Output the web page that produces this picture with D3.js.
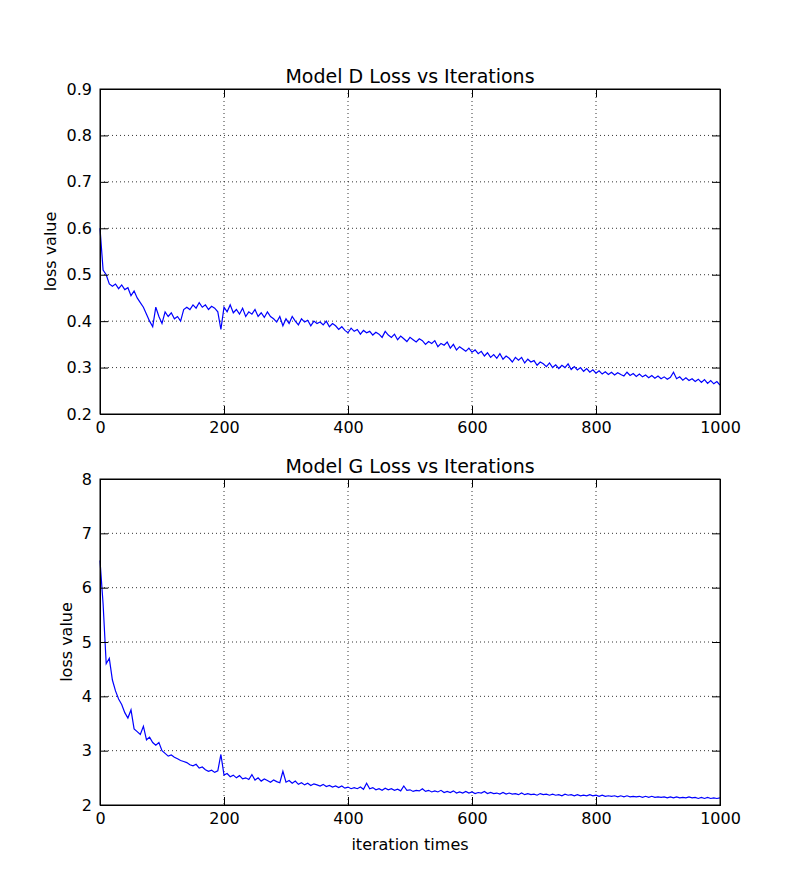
<!DOCTYPE html>
<html>
<head>
<meta charset="utf-8">
<script src="https://cdn.jsdelivr.net/npm/d3@7"></script>
<style>
  body { margin: 0; background: #fff; }
  svg { font-family: "DejaVu Sans", sans-serif; }
</style>
</head>
<body>
<svg id="chart" width="800" height="894"></svg>
<script>
// iterations sampled every 5 steps
var iterations = d3.range(0, 1001, 5);

var lossD = [0.60,0.51,0.50,0.48,0.475,0.48,0.47,0.478,0.468,0.472,
  0.455,0.465,0.45,0.44,0.43,0.415,0.40,0.388,0.43,0.41,
  0.395,0.42,0.41,0.418,0.405,0.41,0.40,0.425,0.43,0.425,
  0.435,0.428,0.44,0.43,0.435,0.425,0.432,0.428,0.42,0.382,
  0.43,0.42,0.435,0.418,0.425,0.415,0.428,0.41,0.42,0.415,
  0.425,0.41,0.418,0.408,0.42,0.41,0.405,0.398,0.41,0.39,
  0.405,0.395,0.41,0.40,0.392,0.405,0.398,0.402,0.39,0.40,
  0.395,0.398,0.392,0.40,0.388,0.395,0.39,0.382,0.388,0.38,
  0.375,0.385,0.378,0.382,0.372,0.38,0.375,0.378,0.37,0.376,
  0.372,0.365,0.378,0.37,0.365,0.372,0.36,0.368,0.362,0.356,
  0.365,0.36,0.355,0.362,0.358,0.35,0.356,0.352,0.358,0.345,
  0.352,0.348,0.355,0.342,0.35,0.338,0.345,0.34,0.335,0.342,
  0.333,0.338,0.33,0.335,0.325,0.332,0.322,0.328,0.32,0.33,
  0.318,0.325,0.32,0.312,0.322,0.316,0.322,0.31,0.318,0.312,
  0.315,0.305,0.312,0.308,0.302,0.31,0.30,0.306,0.298,0.305,
  0.30,0.308,0.296,0.302,0.295,0.30,0.292,0.298,0.29,0.295,
  0.288,0.293,0.286,0.291,0.285,0.29,0.284,0.289,0.285,0.282,
  0.29,0.283,0.287,0.281,0.286,0.28,0.284,0.278,0.283,0.277,
  0.282,0.276,0.28,0.275,0.279,0.29,0.276,0.28,0.273,0.278,
  0.272,0.276,0.27,0.275,0.268,0.274,0.266,0.272,0.265,0.27,
  0.262];

var lossG = [6.5,5.7,4.6,4.7,4.3,4.1,3.95,3.85,3.7,3.6,
  3.75,3.4,3.35,3.3,3.45,3.2,3.25,3.15,3.1,3.15,
  3.0,2.95,2.9,2.92,2.88,2.85,2.82,2.8,2.78,2.74,
  2.72,2.75,2.68,2.7,2.65,2.62,2.64,2.6,2.63,2.93,
  2.55,2.58,2.52,2.55,2.5,2.54,2.48,2.5,2.47,2.56,
  2.46,2.5,2.44,2.48,2.45,2.42,2.46,2.43,2.41,2.62,
  2.42,2.45,2.4,2.44,2.38,2.41,2.37,2.4,2.36,2.39,
  2.37,2.35,2.38,2.34,2.36,2.33,2.35,2.32,2.35,2.31,
  2.33,2.3,2.32,2.3,2.33,2.29,2.4,2.3,2.32,2.28,
  2.3,2.27,2.31,2.28,2.3,2.27,2.29,2.26,2.35,2.27,
  2.28,2.25,2.27,2.26,2.3,2.25,2.27,2.24,2.26,2.24,
  2.27,2.23,2.25,2.23,2.26,2.22,2.24,2.22,2.25,2.22,
  2.24,2.21,2.23,2.22,2.25,2.21,2.23,2.21,2.22,2.2,
  2.23,2.2,2.22,2.2,2.21,2.19,2.22,2.19,2.21,2.19,
  2.2,2.18,2.21,2.19,2.2,2.18,2.2,2.18,2.19,2.17,
  2.2,2.18,2.19,2.17,2.19,2.17,2.18,2.17,2.19,2.17,
  2.18,2.16,2.18,2.16,2.17,2.16,2.17,2.15,2.17,2.15,
  2.17,2.15,2.16,2.15,2.16,2.14,2.16,2.14,2.16,2.14,
  2.15,2.14,2.15,2.13,2.15,2.13,2.15,2.13,2.14,2.13,
  2.15,2.13,2.14,2.12,2.14,2.12,2.14,2.12,2.13,2.12,
  2.13];

var xTicks = [0, 200, 400, 600, 800, 1000];
var yTicksD = [0.2, 0.3, 0.4, 0.5, 0.6, 0.7, 0.8, 0.9];
var yTicksG = [2, 3, 4, 5, 6, 7, 8];

var svg = d3.select("#chart");

function drawPanel(opts) {
    var left = 100, right = 720;
    var x = d3.scaleLinear().domain([0, 1000]).range([left, right]);
    var y = d3.scaleLinear().domain(opts.yDomain).range([opts.bottom, opts.top]);
    var g = svg.append("g");

    // grid
    g.selectAll(".gx").data(xTicks.slice(1, -1)).enter().append("line")
        .attr("x1", x).attr("x2", x).attr("y1", opts.top).attr("y2", opts.bottom)
        .attr("stroke", "#000").attr("stroke-width", 0.8).attr("stroke-dasharray", "1,3");
    g.selectAll(".gy").data(opts.yTicks.slice(1, -1)).enter().append("line")
        .attr("x1", left).attr("x2", right).attr("y1", y).attr("y2", y)
        .attr("stroke", "#000").attr("stroke-width", 0.8).attr("stroke-dasharray", "1,3");

    // line
    var line = d3.line().x(function(d, i) { return x(iterations[i]); }).y(function(d) { return y(d); });
    g.append("path").datum(opts.values).attr("d", line)
        .attr("fill", "none").attr("stroke", "#0000ff").attr("stroke-width", 1.2);

    // axes, ticks pointing inward on all sides
    g.append("g").attr("transform", "translate(0," + opts.bottom + ")")
        .call(d3.axisBottom(x).tickValues(xTicks).tickSize(-8).tickPadding(8).tickFormat(d3.format("d")));
    g.append("g").attr("transform", "translate(0," + opts.top + ")")
        .call(d3.axisTop(x).tickValues(xTicks).tickSize(-8).tickFormat(""));
    g.append("g").attr("transform", "translate(" + left + ",0)")
        .call(d3.axisLeft(y).tickValues(opts.yTicks).tickSize(-8).tickPadding(8).tickFormat(opts.fmt));
    g.append("g").attr("transform", "translate(" + right + ",0)")
        .call(d3.axisRight(y).tickValues(opts.yTicks).tickSize(-8).tickFormat(""));
    g.selectAll(".domain").attr("stroke", "#000");
    g.selectAll(".tick text").attr("font-size", 16).attr("fill", "#000")
        .attr("font-family", "DejaVu Sans, sans-serif");

    g.append("rect").attr("x", left).attr("y", opts.top)
        .attr("width", right - left).attr("height", opts.bottom - opts.top)
        .attr("fill", "none").attr("stroke", "#000");

    g.append("text").attr("x", (left + right) / 2).attr("y", opts.top - 6)
        .attr("text-anchor", "middle").attr("font-size", 19).text(opts.title);
    g.append("text")
        .attr("transform", "translate(" + opts.ylabelX + "," + ((opts.top + opts.bottom) / 2) + ") rotate(-90)")
        .attr("text-anchor", "middle").attr("font-size", 16).text("loss value");
    if (opts.xlabel) {
        g.append("text").attr("x", (left + right) / 2).attr("y", opts.bottom + 45)
            .attr("text-anchor", "middle").attr("font-size", 16).text(opts.xlabel);
    }
}

drawPanel({ top: 89, bottom: 414, yDomain: [0.2, 0.9], yTicks: yTicksD,
    values: lossD, title: "Model D Loss vs Iterations", ylabelX: 56, fmt: d3.format(".1f") });
drawPanel({ top: 479, bottom: 805, yDomain: [2, 8], yTicks: yTicksG,
    values: lossG, title: "Model G Loss vs Iterations", ylabelX: 72, fmt: d3.format("d"),
    xlabel: "iteration times" });
</script>
</body>
</html>
